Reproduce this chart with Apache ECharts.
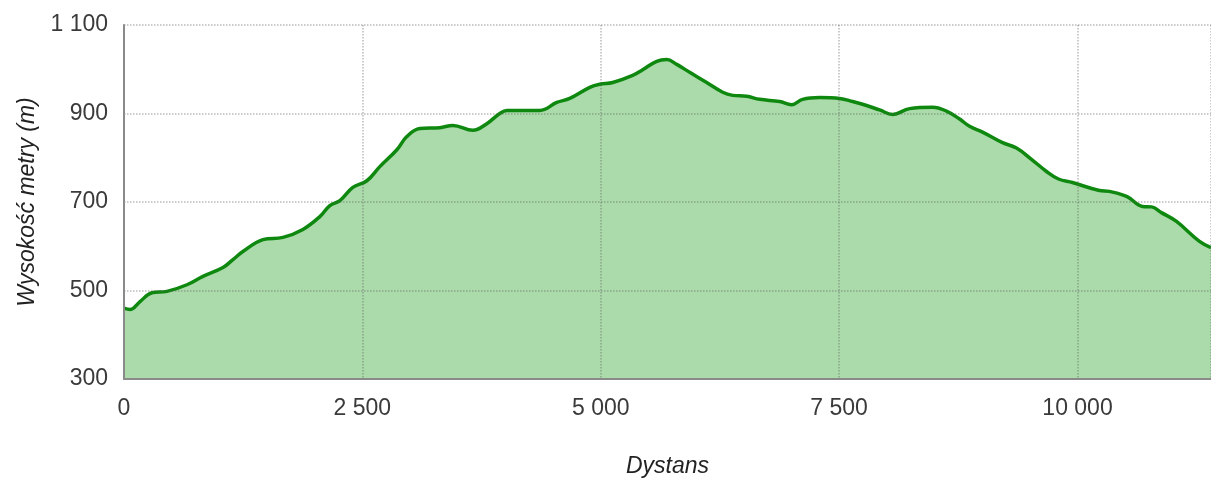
<!DOCTYPE html>
<html>
<head>
<meta charset="utf-8">
<script src="https://cdn.jsdelivr.net/npm/echarts@6/dist/echarts.min.js"></script>
<style>
html,body{margin:0;padding:0;background:#fff;}
#chart{width:1211px;height:481px;}
</style>
</head>
<body>
<div id="chart"></div>
<script>
var distance = [0, 63, 168, 293, 451, 660, 828, 1038, 1143, 1247, 1457, 1667, 1876, 2054, 2159, 2264, 2400, 2547, 2683, 2862, 2966, 3103, 3312, 3449, 3658, 3805, 3941, 4015, 4361, 4539, 4675, 4885, 4989, 5126, 5335, 5440, 5587, 5692, 5797, 5933, 6111, 6279, 6384, 6530, 6667, 6876, 7002, 7117, 7295, 7505, 7641, 7788, 7924, 8061, 8239, 8480, 8620, 8760, 8868, 9004, 9214, 9360, 9520, 9675, 9800, 9947, 10230, 10335, 10520, 10681, 10776, 10880, 11038, 11279, 11400];
var elevation = [460, 457, 475, 495, 498, 513, 532, 552, 570, 588, 615, 620, 638, 667, 692, 703, 733, 748, 780, 818, 848, 866, 868, 873, 862, 877, 900, 907, 907, 925, 934, 959, 966, 970, 986, 999, 1018, 1022, 1011, 993, 970, 948, 941, 939, 932, 927, 920, 932, 936, 934, 927, 918, 908, 898, 911, 914, 906, 888, 871, 858, 834, 822, 796, 769, 752, 744, 726, 724, 712, 690, 689, 676, 656, 611, 597];
var xTicks = [0, 2500, 5000, 7500, 10000];
var yTicks = [300, 500, 700, 900, 1100];
var xTitle = 'Dystans';
var yTitle = 'Wysokość metry (m)';

function fmt(v) {
  return String(v).replace(/\B(?=(\d{3})+(?!\d))/g, ' ');
}
var points = distance.map(function (d, i) { return [d, elevation[i]]; });

var chart = echarts.init(document.getElementById('chart'));
chart.setOption({
  animation: false,
  grid: { left: 124, right: 0, top: 25, bottom: 102, containLabel: false, outerBoundsMode: 'none' },
  xAxis: {
    type: 'value',
    min: xTicks[0],
    max: 11400,
    interval: xTicks[1] - xTicks[0],
    z: 5,
    name: xTitle,
    nameLocation: 'middle',
    nameGap: 76,
    nameTextStyle: { fontFamily: 'Liberation Sans', fontSize: 23, fontStyle: 'italic', color: '#222' },
    axisLine: { show: true, lineStyle: { color: '#8a8a8a', width: 2 } },
    axisTick: { show: false },
    axisLabel: {
      showMaxLabel: false,
      margin: 18,
      fontFamily: 'Liberation Sans', fontSize: 23, color: '#3a3a3a',
      formatter: function (v) { return xTicks.indexOf(v) >= 0 ? fmt(v) : ''; }
    },
    splitLine: { show: true, lineStyle: { color: 'rgba(90,90,90,0.42)', type: 'dotted', width: 1.5 } }
  },
  yAxis: {
    type: 'value',
    min: yTicks[0],
    max: yTicks[yTicks.length - 1],
    interval: yTicks[1] - yTicks[0],
    z: 5,
    name: yTitle,
    nameLocation: 'middle',
    nameGap: 84,
    nameRotate: 90,
    nameTextStyle: { fontFamily: 'Liberation Sans', fontSize: 23, fontStyle: 'italic', color: '#222' },
    axisLine: { show: true, lineStyle: { color: '#8a8a8a', width: 2 } },
    axisTick: { show: false },
    axisLabel: {
      margin: 16,
      fontFamily: 'Liberation Sans', fontSize: 23, color: '#3a3a3a',
      formatter: function (v) { return fmt(v); }
    },
    splitLine: { show: true, lineStyle: { color: 'rgba(90,90,90,0.42)', type: 'dotted', width: 1.5 } }
  },
  series: [{
    type: 'line',
    data: points,
    smooth: 0.4,
    showSymbol: false,
    lineStyle: { color: '#0f880f', width: 3.5 },
    areaStyle: { color: '#abdbab', opacity: 1 }
  }]
});
</script>
</body>
</html>
